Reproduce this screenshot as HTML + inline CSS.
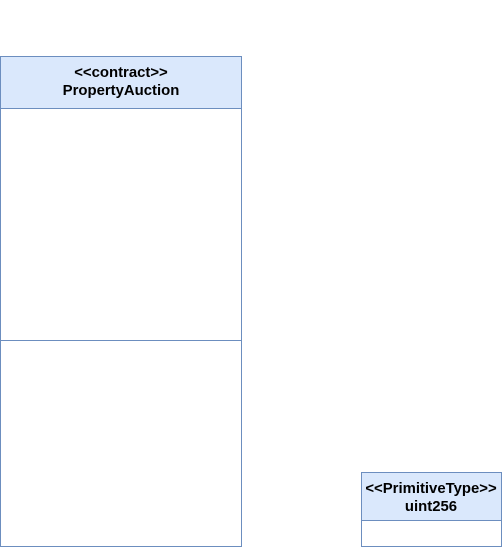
<!DOCTYPE html>
<html><head><style>body{margin:0;background:#fff}svg{display:block}</style></head>
<body>
<svg width="502" height="549" xmlns="http://www.w3.org/2000/svg" font-family="Liberation Sans, sans-serif" font-weight="bold" font-size="14.9" text-anchor="middle">
<rect x="0.5" y="56.5" width="241" height="490" fill="#fff" stroke="#6c8ebf"/>
<rect x="0.5" y="56.5" width="241" height="52" fill="#dae8fc" stroke="#6c8ebf"/>
<line x1="0.5" y1="340.5" x2="241.5" y2="340.5" stroke="#6c8ebf"/>
<text x="121" y="77">&lt;&lt;contract&gt;&gt;</text>
<text x="121" y="95">PropertyAuction</text>
<rect x="361.5" y="472.5" width="140" height="74" fill="#fff" stroke="#6c8ebf"/>
<rect x="361.5" y="472.5" width="140" height="48" fill="#dae8fc" stroke="#6c8ebf"/>
<text x="431" y="493">&lt;&lt;PrimitiveType&gt;&gt;</text>
<text x="431" y="511">uint256</text>
</svg>
</body></html>
